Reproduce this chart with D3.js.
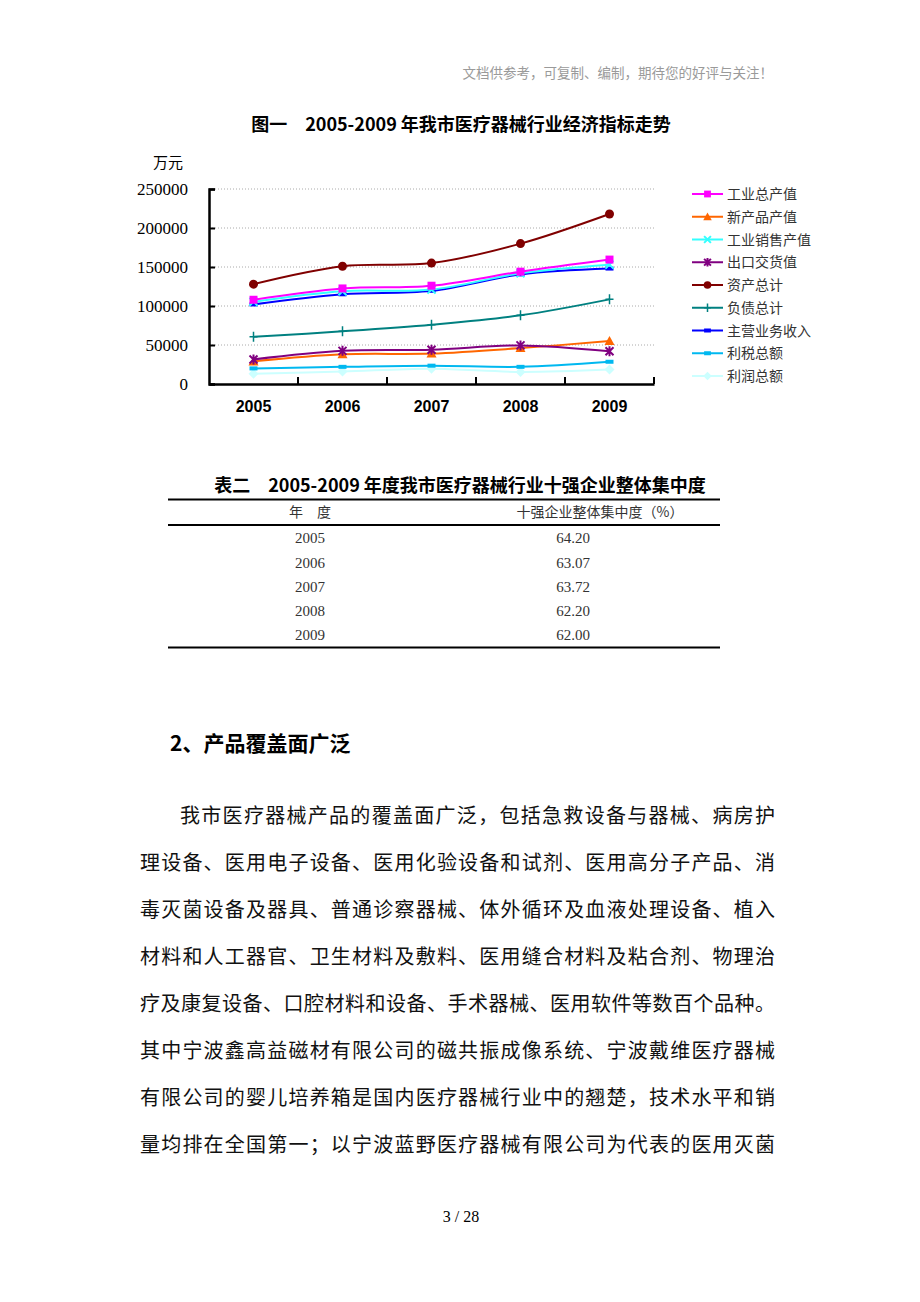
<!DOCTYPE html>
<html><head><meta charset="utf-8">
<script src="https://cdn.jsdelivr.net/npm/d3@7/dist/d3.min.js"></script>
<style>html,body{margin:0;padding:0;background:#fff;}svg{display:block;}</style>
</head><body>
<script>
const years = ['2005','2006','2007','2008','2009'];
const yTicks = [0, 50000, 100000, 150000, 200000, 250000];
const seriesNames = ['工业总产值','新产品产值','工业销售产值','出口交货值','资产总计','负债总计','主营业务收入','利税总额','利润总额'];
const gongyeZongchanzhi = [108000, 122500, 126000, 144000, 159500];
const xinchanpin = [29000, 38000, 39000, 46000, 55000];
const xiaoshou = [105500, 119000, 121000, 142000, 153000];
const chukou = [31500, 42500, 44000, 49500, 42000];
const zichan = [128000, 151000, 155000, 180000, 218000];
const fuzhai = [60500, 67500, 76000, 88000, 108500];
const zhuying = [102000, 115000, 119500, 140500, 148000];
const lishui = [20000, 22000, 23500, 22000, 28500];
const lirun = [13000, 16000, 19500, 15500, 18500];
const seriesValues = [gongyeZongchanzhi, xinchanpin, xiaoshou, chukou, zichan, fuzhai, zhuying, lishui, lirun];
const seriesColors = ['#ff00ff','#ff6600','#33ffff','#800080','#800000','#008080','#0000ff','#00b8f0','#ccffff'];
const seriesMarkers = ['square','triangle','x','asterisk','circle','plus','dash','dash','diamond'];
const tableYears = ['2005','2006','2007','2008','2009'];
const tableValues = ['64.20','63.07','63.72','62.20','62.00'];
const bodyLines = [
 '我市医疗器械产品的覆盖面广泛，包括急救设备与器械、病房护',
 '理设备、医用电子设备、医用化验设备和试剂、医用高分子产品、消',
 '毒灭菌设备及器具、普通诊察器械、体外循环及血液处理设备、植入',
 '材料和人工器官、卫生材料及敷料、医用缝合材料及粘合剂、物理治',
 '疗及康复设备、口腔材料和设备、手术器械、医用软件等数百个品种。',
 '其中宁波鑫高益磁材有限公司的磁共振成像系统、宁波戴维医疗器械',
 '有限公司的婴儿培养箱是国内医疗器械行业中的翘楚，技术水平和销',
 '量均排在全国第一；以宁波蓝野医疗器械有限公司为代表的医用灭菌'
];

const W = 920, H = 1302;
const CJK = '"Noto Sans CJK SC", sans-serif';
const SERIF = '"Liberation Serif", "DejaVu Serif", serif';
const svg = d3.select('body').append('svg').attr('width', W).attr('height', H);
svg.append('rect').attr('width', W).attr('height', H).attr('fill', '#fff');

// watermark
svg.append('text').attr('x', 773).attr('y', 78).attr('text-anchor', 'end')
  .attr('font-family', CJK).attr('font-size', 13.5).attr('fill', '#9a9a9a')
  .text('文档供参考，可复制、编制，期待您的好评与关注！');

// chart title
svg.append('text').attr('x', 461).attr('y', 131).attr('text-anchor', 'middle')
  .attr('font-family', CJK).attr('font-weight', 'bold').attr('font-size', 18).attr('fill', '#000')
  .text('图一　2005-2009 年我市医疗器械行业经济指标走势');

// chart
const x = d3.scaleBand().domain(years).range([209, 654]);
const y = d3.scaleLinear().domain([0, 250000]).range([384, 189]);

const g = svg.append('g');
// grid
g.selectAll('line.grid').data(yTicks.slice(1)).enter().append('line')
  .attr('x1', 209).attr('x2', 654).attr('y1', d => y(d)).attr('y2', d => y(d))
  .attr('stroke', '#aaa').attr('stroke-width', 1).attr('stroke-dasharray', '1,2');

// y axis
const yAxis = d3.axisLeft(y).tickValues(yTicks).tickSize(-6).tickPadding(21).tickFormat(d => d);
const ya = g.append('g').attr('transform', 'translate(209,0)').call(yAxis);
ya.select('.domain').attr('stroke', '#000').attr('stroke-width', 2.5);
ya.selectAll('.tick line').attr('stroke', '#000').attr('stroke-width', 2);
ya.selectAll('.tick text').attr('font-family', SERIF).attr('font-size', 17).attr('fill', '#000');

// x axis
const xAxis = d3.axisBottom(x).tickSize(0).tickPadding(17);
const xa = g.append('g').attr('transform', 'translate(0,384)').call(xAxis);
xa.select('.domain').attr('stroke', '#000').attr('stroke-width', 2.5);
xa.selectAll('.tick text').attr('font-family', '"Liberation Sans", Arial, sans-serif')
  .attr('font-weight', 'bold').attr('font-size', 16).attr('fill', '#000');
// x ticks at band boundaries
const bounds = years.slice(1).map(d => x(d)).concat([x.range()[1]]);
g.selectAll('line.xt').data(bounds).enter().append('line')
  .attr('x1', d => d).attr('x2', d => d).attr('y1', 384).attr('y2', 377)
  .attr('stroke', '#000').attr('stroke-width', 2);

// unit
svg.append('text').attr('x', 153).attr('y', 168).attr('font-family', CJK).attr('font-size', 15).attr('fill', '#000').text('万元');

function drawMarker(sel, type, color, cx, cy, s) {
  s = s || 1;
  if (type === 'square') sel.append('rect').attr('x', cx - 4*s).attr('y', cy - 4*s).attr('width', 8*s).attr('height', 8*s).attr('fill', color);
  else if (type === 'triangle') sel.append('path').attr('d', `M${cx},${cy-5*s}L${cx+5*s},${cy+4*s}L${cx-5*s},${cy+4*s}Z`).attr('fill', color);
  else if (type === 'circle') sel.append('circle').attr('cx', cx).attr('cy', cy).attr('r', 4.5*s).attr('fill', color);
  else if (type === 'diamond') sel.append('path').attr('d', `M${cx},${cy-5*s}L${cx+5*s},${cy}L${cx},${cy+5*s}L${cx-5*s},${cy}Z`).attr('fill', color);
  else if (type === 'x') sel.append('path').attr('d', `M${cx-4*s},${cy-4*s}L${cx+4*s},${cy+4*s}M${cx-4*s},${cy+4*s}L${cx+4*s},${cy-4*s}`).attr('stroke', color).attr('stroke-width', 2);
  else if (type === 'plus') sel.append('path').attr('d', `M${cx-4*s},${cy}L${cx+4*s},${cy}M${cx},${cy-5*s}L${cx},${cy+5*s}`).attr('stroke', color).attr('stroke-width', 1.5);
  else if (type === 'asterisk') sel.append('path').attr('d', `M${cx-4*s},${cy-4*s}L${cx+4*s},${cy+4*s}M${cx-4*s},${cy+4*s}L${cx+4*s},${cy-4*s}M${cx},${cy-5*s}L${cx},${cy+5*s}`).attr('stroke', color).attr('stroke-width', 2);
  else if (type === 'dash') sel.append('rect').attr('x', cx - 4*s).attr('y', cy - 2).attr('width', 8*s).attr('height', 4).attr('fill', color);
}

const line = d3.line().x((d, i) => x(years[i]) + x.bandwidth()/2).y(d => y(d)).curve(d3.curveCatmullRom.alpha(0.5));
const drawOrder = [8,7,1,3,5,6,2,0,4];
drawOrder.forEach(k => {
  const sg = g.append('g');
  sg.append('path').attr('d', line(seriesValues[k])).attr('fill', 'none')
    .attr('stroke', seriesColors[k]).attr('stroke-width', 2);
  seriesValues[k].forEach((v, i) => drawMarker(sg, seriesMarkers[k], seriesColors[k], x(years[i]) + x.bandwidth()/2, y(v)));
});

// legend
const lg = svg.append('g');
seriesNames.forEach((n, i) => {
  const cy = 194 + i * 22.75;
  lg.append('line').attr('x1', 692).attr('x2', 723).attr('y1', cy).attr('y2', cy)
    .attr('stroke', seriesColors[i]).attr('stroke-width', 2);
  drawMarker(lg, seriesMarkers[i], seriesColors[i], 707.5, cy, 0.85);
  lg.append('text').attr('x', 727).attr('y', cy).attr('dy', '0.36em')
    .attr('font-family', CJK).attr('font-size', 14).attr('fill', '#333').text(n);
});

// table
svg.append('text').attr('x', 460).attr('y', 492).attr('text-anchor', 'middle')
  .attr('font-family', CJK).attr('font-weight', 'bold').attr('font-size', 18).attr('fill', '#000')
  .text('表二　2005-2009 年度我市医疗器械行业十强企业整体集中度');
const tl = [[499.5, 2.2], [525, 2.2], [647.5, 2.2]];
tl.forEach(([yy, w]) => svg.append('line').attr('x1', 168).attr('x2', 720).attr('y1', yy).attr('y2', yy).attr('stroke', '#000').attr('stroke-width', w));
svg.append('text').attr('x', 310).attr('y', 512).attr('dy', '0.36em').attr('text-anchor', 'middle')
  .attr('font-family', CJK).attr('font-size', 14).attr('fill', '#333').text('年　度');
svg.append('text').attr('x', 600).attr('y', 512).attr('dy', '0.36em').attr('text-anchor', 'middle')
  .attr('font-family', CJK).attr('font-size', 14).attr('fill', '#333').text('十强企业整体集中度（%）');
const rowY = d3.scalePoint().domain(tableYears).range([538, 635]);
tableYears.forEach((yr, i) => {
  svg.append('text').attr('x', 310).attr('y', rowY(yr)).attr('dy', '0.35em').attr('text-anchor', 'middle')
    .attr('font-family', SERIF).attr('font-size', 15).attr('fill', '#333').text(yr);
  svg.append('text').attr('x', 573).attr('y', rowY(yr)).attr('dy', '0.35em').attr('text-anchor', 'middle')
    .attr('font-family', SERIF).attr('font-size', 15).attr('fill', '#333').text(tableValues[i]);
});

// heading
svg.append('text').attr('x', 170).attr('y', 743).attr('dy', '0.36em')
  .attr('font-family', CJK).attr('font-weight', 'bold').attr('font-size', 21).attr('fill', '#000')
  .text('2、产品覆盖面广泛');

// body text
bodyLines.forEach((t, i) => {
  const x0 = i === 0 ? 180 : 140;
  svg.append('text').attr('x', x0).attr('y', 816 + i * 46.9).attr('dy', '0.36em')
    .attr('font-family', CJK).attr('font-size', 20).attr('fill', '#111')
    .attr('textLength', 775 - x0).attr('lengthAdjust', 'spacing').text(t);
});

// page number
svg.append('text').attr('x', 461).attr('y', 1216).attr('dy', '0.35em').attr('text-anchor', 'middle')
  .attr('font-family', SERIF).attr('font-size', 16).attr('fill', '#000').text('3 / 28');
</script>
</body></html>
